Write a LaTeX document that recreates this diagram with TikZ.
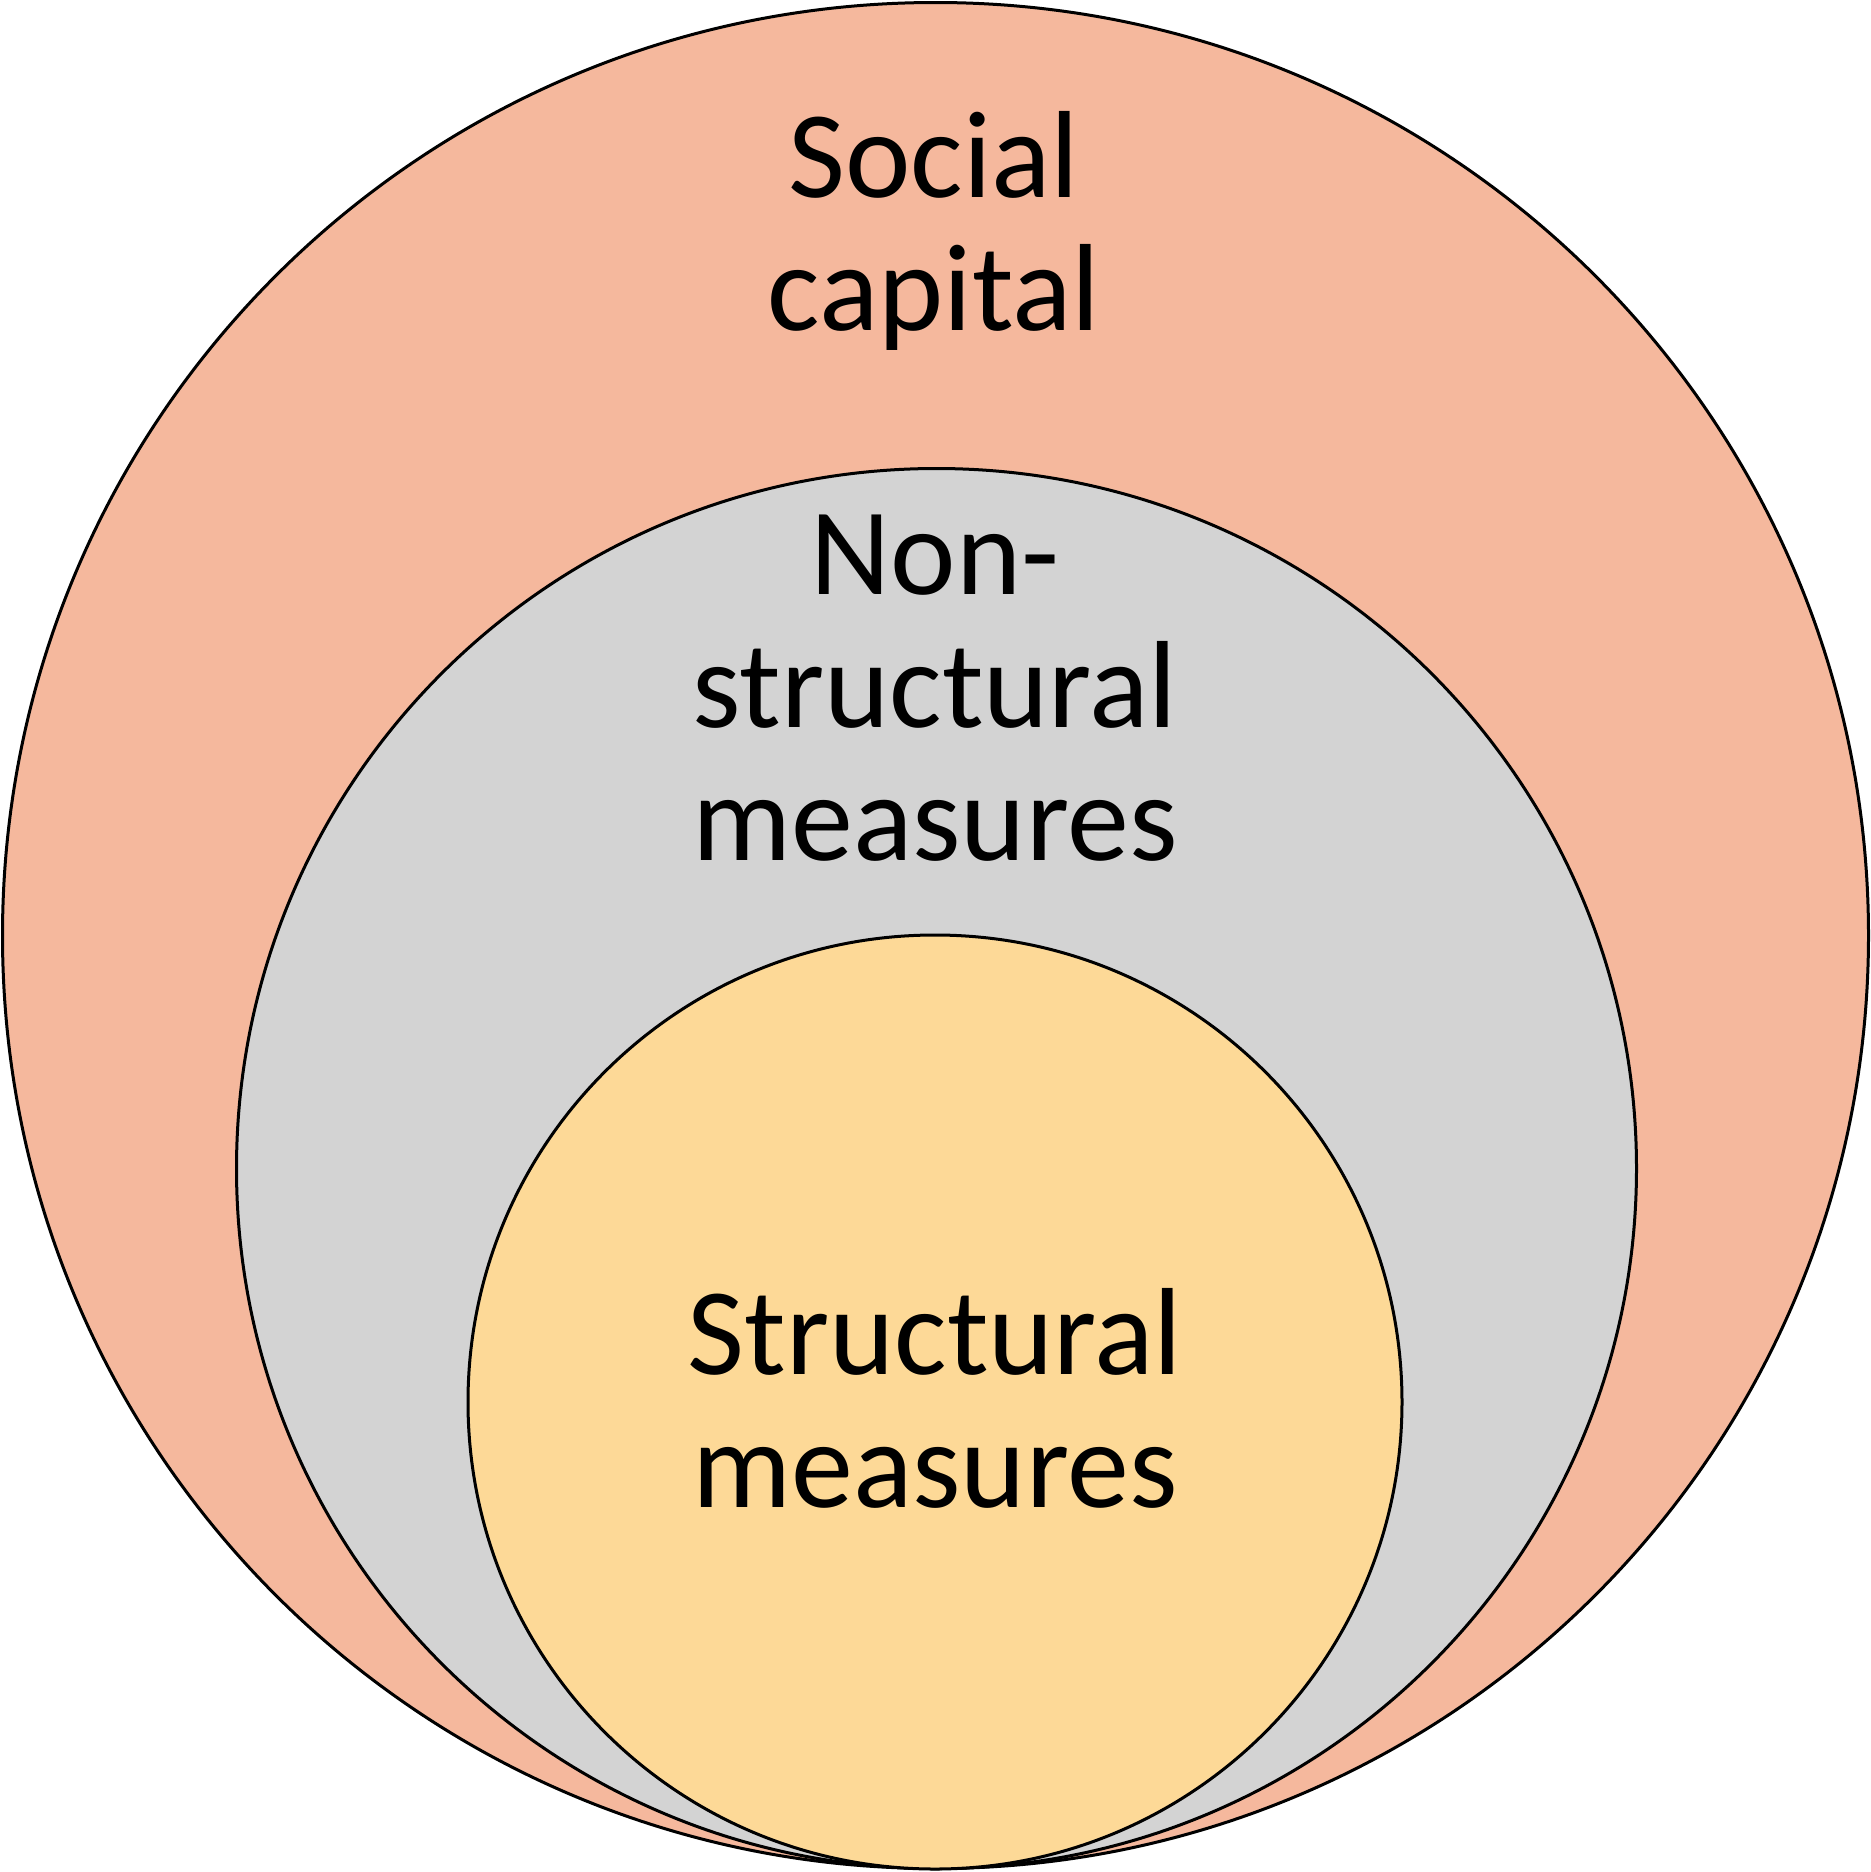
\documentclass[tikz,border=0pt]{standalone}
\usepackage{fontspec}
\setmainfont{Carlito}
\definecolor{outerc}{HTML}{F5B89D}
\definecolor{midc}{HTML}{D3D3D3}
\definecolor{innerc}{HTML}{FDD997}
\tikzset{
  ring/.style={draw=black,line width=3pt},
  lbl/.style={align=center,inner sep=0pt,anchor=base,font={\fontsize{124}{133}\selectfont}}
}
\begin{document}
\begin{tikzpicture}[x=1pt,y=-1pt]
\useasboundingbox (0,0) rectangle (1871,1872);
\fill[white] (0,0) rectangle (1871,1872);
\node[ring,fill=outerc,circle,minimum size=1866pt,inner sep=0pt] (outer) at (935.5,935.5) {};
\node[ring,fill=midc,circle,minimum size=1400pt,inner sep=0pt] (mid) at (936.5,1168.5) {};
\node[ring,fill=innerc,circle,minimum size=934pt,inner sep=0pt] (inner) at (935,1402) {};
\node[lbl] (t1) at (934,330) {Social\\capital};
\node[lbl] (t2) at (935,860) {Non-\\structural\\measures};
\node[lbl] (t3) at (935,1507) {Structural\\measures};
\end{tikzpicture}
\end{document}
